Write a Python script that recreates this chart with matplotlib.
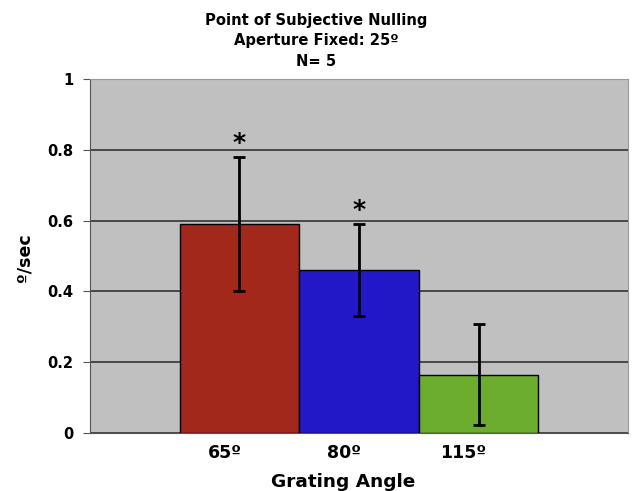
import numpy as np
import matplotlib
matplotlib.use("Agg")
from matplotlib import pyplot as plt
from matplotlib.transforms import ScaledTranslation

# data
categories = ["65º", "80º", "115º"]
values = [0.59, 0.46, 0.165]
errors = [0.19, 0.13, 0.143]
colors = ["#A3281C", "#2318C8", "#6CAC2E"]
starred = [True, True, False]
yticks = [0, 0.2, 0.4, 0.6, 0.8, 1]
ytick_labels = ["0", "0.2", "0.4", "0.6", "0.8", "1"]

plt.rcParams['font.family'] = ['DejaVu Sans']

fig = plt.figure(figsize=(6.32, 4.91), dpi=100)
ax = fig.add_axes([90 / 632, 1 - 433 / 491, 538 / 632, 354 / 491])
ax.set_facecolor("#C0C0C0")

x = np.arange(len(categories))
ax.bar(x, values, width=1.0, color=colors, edgecolor="black", linewidth=1, zorder=3)
ax.errorbar(x, values, yerr=errors, fmt="none", ecolor="black",
            elinewidth=2, capsize=4, capthick=2, zorder=4)

# significance stars
for xi, v, e, s in zip(x, values, errors, starred):
    if s:
        ax.text(xi, v + e + 0.005, "*", ha="center", va="bottom",
                fontsize=18, fontweight="bold", zorder=5)

ax.set_xlim(-1.25, 3.25)
ax.set_ylim(0, 1)
ax.set_yticks(yticks)
ax.set_yticklabels(ytick_labels, fontsize=10.5, fontweight="bold")
ax.set_xticks(x)
ax.set_xticklabels(categories, fontsize=12.5, fontweight="bold")
ax.tick_params(axis="x", length=0, pad=8)
ax.tick_params(axis="y", length=5, pad=7, color="#555555")
ax.yaxis.grid(True, color="#333333", linewidth=1.2, zorder=1)

# tick labels sit a little left of the bar centres in the original
shift = ScaledTranslation(-15 / 100, 0, fig.dpi_scale_trans)
for lab in ax.get_xticklabels():
    lab.set_transform(lab.get_transform() + shift)

for side in ["top", "right"]:
    ax.spines[side].set_color("#999999")
for side in ["left", "bottom"]:
    ax.spines[side].set_color("#555555")

ax.set_xlabel("Grating Angle", fontsize=13.3, fontweight="bold")
ax.xaxis.set_label_coords((343 - 90) / 538, -(473 - 433) / 354)
ax.set_ylabel("º/sec", fontsize=12.5, fontweight="bold")
ax.yaxis.set_label_coords((33 - 90) / 538, (433 - 258) / 354)

fig.text(0.5, 1 - 20 / 491, "Point of Subjective Nulling", ha="center", va="center",
         fontsize=10.6, fontweight="bold")
fig.text(0.5, 1 - 41 / 491, "Aperture Fixed: 25º", ha="center", va="center",
         fontsize=10.6, fontweight="bold")
fig.text(0.5, 1 - 62 / 491, "N= 5", ha="center", va="center",
         fontsize=10.6, fontweight="bold")

fig.savefig("out.png", dpi=100, facecolor="white")
